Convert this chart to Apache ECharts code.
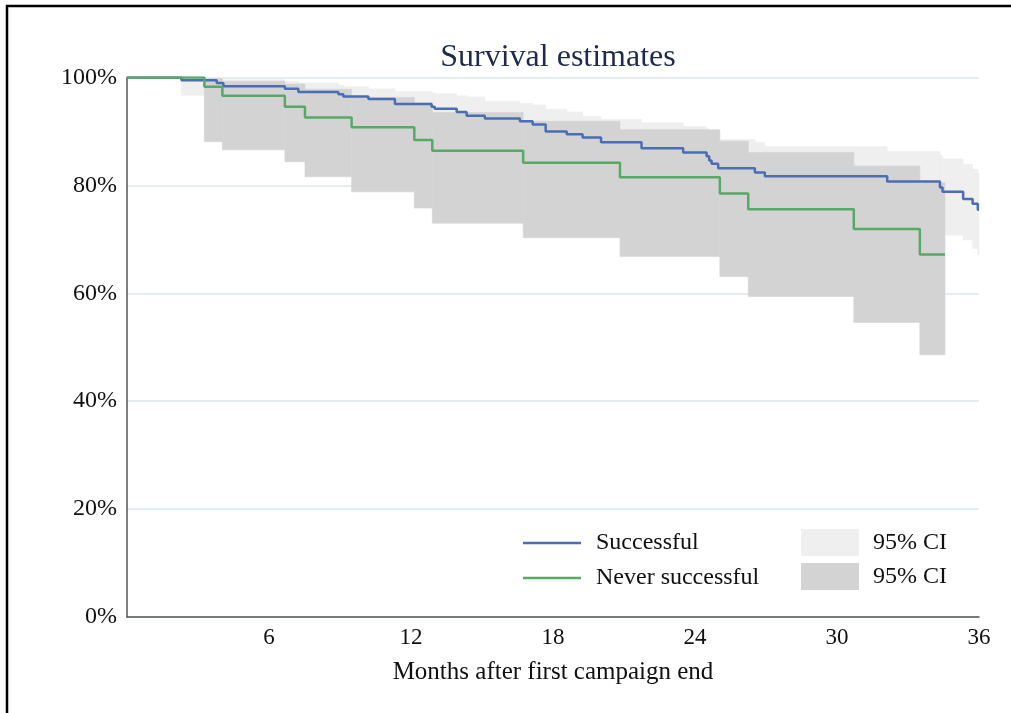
<!DOCTYPE html>
<html>
<head>
<meta charset="utf-8">
<script src="https://cdn.jsdelivr.net/npm/echarts@6/dist/echarts.min.js"></script>
<style>
html,body{margin:0;padding:0;background:#fff;}
#chart{width:1011px;height:713px;}
</style>
</head>
<body>
<div id="chart"></div>
<script>
// Successful campaigns: Kaplan-Meier step times (months), survival %, 95% CI
const succT  = [0, 2.3, 3.79, 4.07, 6.67, 7.24, 8.93, 9.14, 10.2, 11.32, 12.87, 13.0, 13.93, 14.35, 15.12, 16.6, 17.14, 17.69, 18.58, 19.25, 20.03, 21.74, 23.5, 24.49, 24.6, 24.7, 24.98, 26.53, 26.95, 32.12, 34.35, 34.46, 35.33, 35.73, 35.95];
const succS  = [100, 99.5, 99.0, 98.4, 97.9, 97.3, 96.9, 96.5, 96.0, 95.1, 94.6, 94.2, 93.6, 92.9, 92.4, 91.9, 91.3, 90.0, 89.5, 88.9, 88.0, 86.9, 86.1, 85.4, 84.6, 84.0, 83.2, 82.4, 81.7, 80.7, 79.6, 78.8, 77.5, 76.6, 75.5];
const succUp = [100, 100, 99.9, 99.6, 99.3, 99.0, 98.6, 98.3, 97.9, 97.4, 97.2, 97.0, 96.6, 96.4, 95.6, 95.2, 94.9, 94.1, 93.6, 92.8, 92.2, 91.6, 90.9, 90.5, 90.2, 89.9, 88.5, 88.0, 87.2, 86.3, 85.5, 84.9, 83.9, 83.0, 82.3];
const succLo = [100, 96.7, 96.2, 95.3, 94.6, 93.8, 93.3, 92.8, 92.2, 91.1, 90.5, 90.0, 89.4, 88.6, 88.2, 87.6, 86.9, 85.3, 84.8, 84.1, 83.1, 81.8, 80.9, 80.1, 79.2, 78.5, 77.6, 76.8, 76.0, 74.8, 73.3, 70.8, 69.9, 68.3, 67.1];
const succEnd = 36;

// Never successful
const neverT  = [0, 3.27, 4.03, 6.67, 7.52, 9.49, 12.14, 12.9, 16.74, 20.83, 25.05, 26.25, 30.71, 33.5];
const neverS  = [100, 98.3, 96.6, 94.6, 92.6, 90.8, 88.4, 86.4, 84.2, 81.5, 78.5, 75.6, 71.9, 67.2];
const neverUp = [100, 99.8, 99.3, 98.8, 97.8, 96.3, 95.3, 93.5, 91.9, 90.3, 88.2, 86.1, 83.6, 80.5];
const neverLo = [100, 88.1, 86.6, 84.4, 81.6, 78.8, 75.8, 73.0, 70.3, 66.8, 63.1, 59.4, 54.6, 48.6];
const neverEnd = 34.56;

const xTicks = [6, 12, 18, 24, 30, 36];
const yTicks = [0, 20, 40, 60, 80, 100];

function pts(t, v, end) {
  const out = t.map((x, i) => [x, v[i]]);
  out.push([end, v[v.length - 1]]);
  return out;
}
// band segments: [tStart, tEnd, lower, upper]
function segs(t, lo, up, end) {
  return t.map((x, i) => [x, i + 1 < t.length ? t[i + 1] : end, lo[i], up[i]]);
}

const FONT = '"Liberation Serif", "Times New Roman", serif';
const BLUE = '#4a6db3';
const GREEN = '#58a866';
const LIGHT = '#efefef';
const DARK = '#d3d3d3';

function bandRenderer(color) {
  return function (params, api) {
    const a = api.coord([api.value(0), api.value(3)]);
    const b = api.coord([api.value(1), api.value(2)]);
    return {
      type: 'rect',
      shape: {x: a[0], y: a[1], width: b[0] - a[0], height: b[1] - a[1]},
      style: {fill: color, stroke: color, lineWidth: 0.6}
    };
  };
}

const chart = echarts.init(document.getElementById('chart'), null, {renderer: 'canvas'});
chart.setOption({
  animation: false,
  backgroundColor: '#ffffff',
  title: {
    text: 'Survival estimates',
    left: 553, top: 37, textAlign: 'center',
    textStyle: {fontFamily: FONT, fontSize: 32, fontWeight: 'normal', color: '#1e2b4e'}
  },
  grid: {left: 127, right: 32, top: 77.5, bottom: 96, containLabel: false},
  xAxis: {
    type: 'value', min: 0, max: 36, interval: 6,
    name: 'Months after first campaign end', nameLocation: 'middle', nameGap: 43,
    nameTextStyle: {fontFamily: FONT, fontSize: 25, color: '#111'},
    axisLine: {show: true, lineStyle: {color: '#555', width: 1.5}},
    axisTick: {show: false},
    splitLine: {show: false},
    axisLabel: {
      fontFamily: FONT, fontSize: 23, color: '#111', margin: 9,
      formatter: v => (xTicks.indexOf(v) >= 0 ? String(v) : '')
    }
  },
  yAxis: {
    type: 'value', min: 0, max: 100, interval: 20,
    axisLine: {show: true, lineStyle: {color: '#555', width: 1.5}},
    axisTick: {show: false},
    splitLine: {show: true, lineStyle: {color: '#e3eeee', width: 2}},
    axisLabel: {
      fontFamily: FONT, fontSize: 24, color: '#111', margin: 10,
      formatter: v => (yTicks.indexOf(v) >= 0 ? v + '%' : '')
    }
  },
  legend: [
    {
      data: [
        {name: 'Successful', icon: 'rect'},
        {name: 'Never successful', icon: 'rect'}
      ],
      orient: 'vertical', left: 523, top: 531, padding: 0,
      itemWidth: 58, itemHeight: 2.5, itemGap: 11,
      selectedMode: false,
      textStyle: {fontFamily: FONT, fontSize: 24, color: '#111', padding: [0, 0, 0, 10]}
    },
    {
      data: [
        {name: 'Successful 95% CI', icon: 'rect', itemStyle: {color: LIGHT}},
        {name: 'Never successful 95% CI', icon: 'rect', itemStyle: {color: DARK}}
      ],
      orient: 'vertical', left: 801, top: 529, padding: 0,
      itemWidth: 58, itemHeight: 27, itemGap: 7,
      selectedMode: false,
      formatter: () => '95% CI',
      textStyle: {fontFamily: FONT, fontSize: 24, color: '#111', padding: [0, 0, 0, 9]}
    }
  ],
  graphic: [{
    type: 'rect', silent: true, z: 100,
    shape: {x: 7, y: 6, width: 1300, height: 1000},
    style: {fill: 'none', stroke: '#000', lineWidth: 2.5}
  }],
  series: [
    {
      name: 'Successful 95% CI', type: 'custom', silent: true, z: 1,
      renderItem: bandRenderer(LIGHT),
      encode: {x: [0, 1], y: [2, 3]},
      itemStyle: {color: LIGHT},
      data: segs(succT, succLo, succUp, succEnd)
    },
    {
      name: 'Never successful 95% CI', type: 'custom', silent: true, z: 2,
      renderItem: bandRenderer(DARK),
      encode: {x: [0, 1], y: [2, 3]},
      itemStyle: {color: DARK},
      data: segs(neverT, neverLo, neverUp, neverEnd)
    },
    {
      name: 'Successful', type: 'line', step: 'end', symbol: 'none',
      data: pts(succT, succS, succEnd),
      lineStyle: {color: BLUE, width: 2.5}, itemStyle: {color: BLUE}, z: 3
    },
    {
      name: 'Never successful', type: 'line', step: 'end', symbol: 'none',
      data: pts(neverT, neverS, neverEnd),
      lineStyle: {color: GREEN, width: 2.5}, itemStyle: {color: GREEN}, z: 4
    }
  ]
});
</script>
</body>
</html>
